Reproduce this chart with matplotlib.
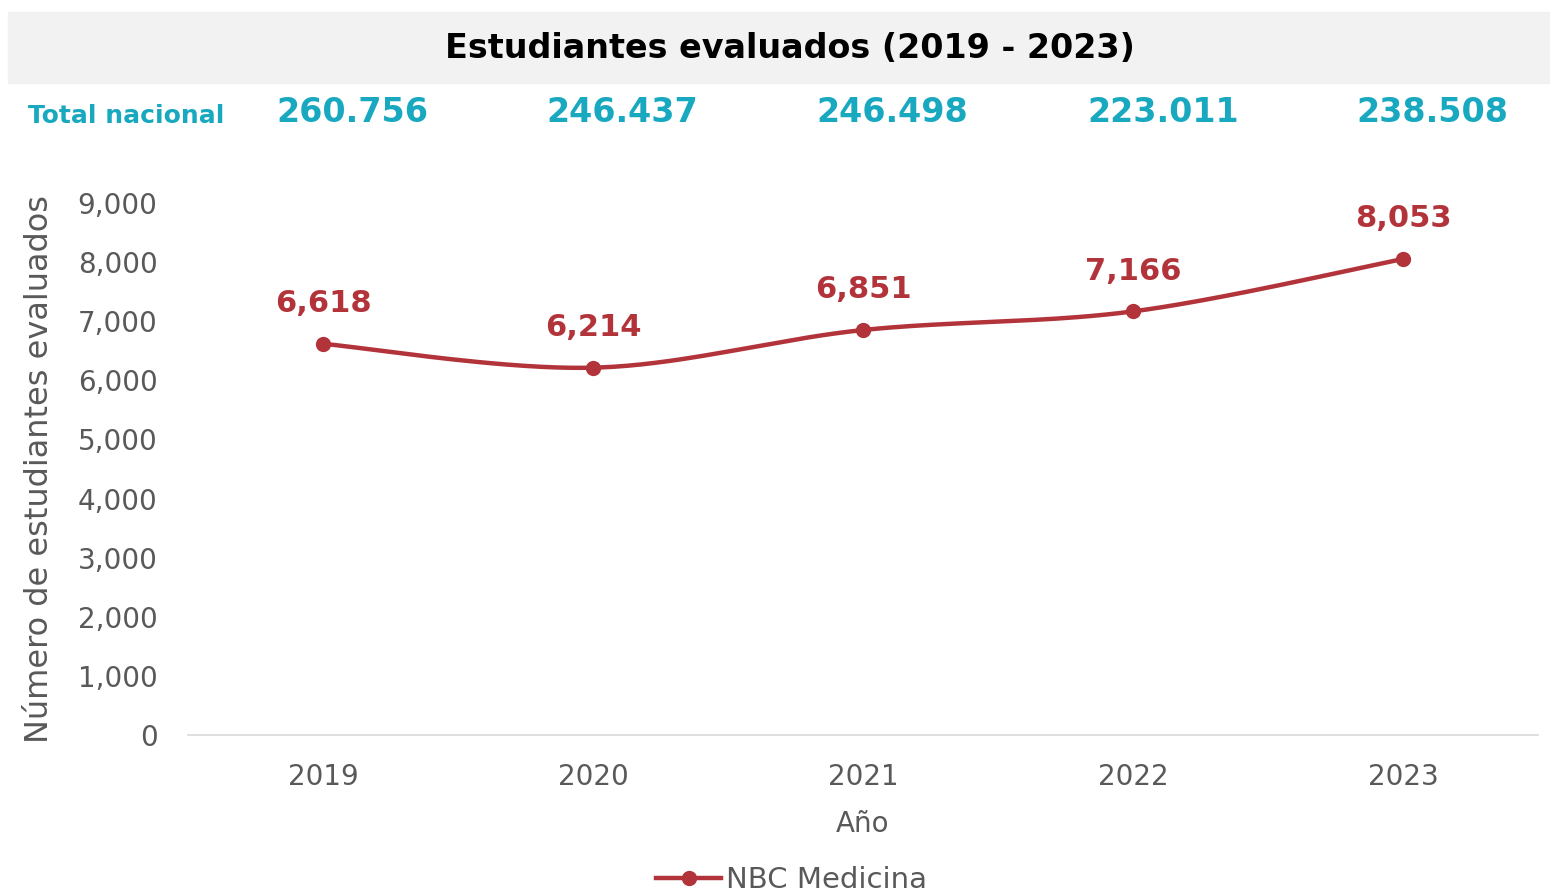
import matplotlib.pyplot as plt
import matplotlib.patches as mpatches
import matplotlib.transforms as mtransforms
import numpy as np

# datos
anios = ["2019", "2020", "2021", "2022", "2023"]
medicina = [6618, 6214, 6851, 7166, 8053]
total_nacional = ["260.756", "246.437", "246.498", "223.011", "238.508"]
yticks = [0, 1000, 2000, 3000, 4000, 5000, 6000, 7000, 8000, 9000]

rojo = "#B2343A"
teal = "#18A8C0"
gris = "#595959"

W, H = 1550, 894
plt.rcParams['font.family'] = ['DejaVu Sans']

fig = plt.figure(figsize=(W / 100, H / 100), dpi=100)

# banda del titulo
fig.patches.append(mpatches.Rectangle((8 / W, 1 - 83 / H), 1542 / W, 71 / H,
                                      transform=fig.transFigure, color="#F2F2F2", zorder=0))
fig.text(790 / W, 1 - 48 / H, "Estudiantes evaluados (2019 - 2023)", ha="center", va="center",
         fontsize=24, fontweight="bold", color="black")
fig.text(28 / W, 1 - 116 / H, "Total nacional", ha="left", va="center",
         fontsize=18, fontweight="bold", color=teal)

ax = fig.add_axes([188 / W, 1 - 735 / H, 1350 / W, 532 / H])
x = np.arange(len(anios))
ax.set_xlim(-0.5, 4.5)
ax.set_ylim(0, 9000)

# total nacional encima de cada año (x en datos, y en figura)
trans = mtransforms.blended_transform_factory(ax.transData, fig.transFigure)
for i, t in enumerate(total_nacional):
    ax.text(i + 0.11, 1 - 113 / H, t, transform=trans, ha="center", va="center",
            fontsize=24, fontweight="bold", color=teal, clip_on=False)

# linea suavizada (estilo Excel, bezier tipo catmull-rom)
xs, ys = [], []
pts = np.column_stack([x, medicina]).astype(float)
n = len(pts)
for i in range(n - 1):
    p0 = pts[max(i - 1, 0)]
    p1 = pts[i]
    p2 = pts[i + 1]
    p3 = pts[min(i + 2, n - 1)]
    c1 = p1 + (p2 - p0) / 6
    c2 = p2 - (p3 - p1) / 6
    t = np.linspace(0, 1, 40)[:, None]
    b = (1 - t) ** 3 * p1 + 3 * (1 - t) ** 2 * t * c1 + 3 * (1 - t) * t ** 2 * c2 + t ** 3 * p2
    xs.extend(b[:, 0])
    ys.extend(b[:, 1])
ax.plot(xs, ys, color=rojo, linewidth=3.2, solid_capstyle="round")
ax.plot(x, medicina, "o", color=rojo, markersize=10)

for i, v in enumerate(medicina):
    ax.annotate(f"{v:,}", (i, v), xytext=(0, 29), textcoords="offset points",
                ha="center", va="center", fontsize=22, fontweight="bold", color=rojo)

ax.set_xticks(x)
ax.set_xticklabels(anios)
ax.set_yticks(yticks)
ax.set_yticklabels([f"{v:,}" for v in yticks])
ax.tick_params(axis="both", length=0, labelsize=20, labelcolor=gris)
ax.tick_params(axis="x", pad=20)
ax.tick_params(axis="y", pad=22)
for s in ["top", "right", "left"]:
    ax.spines[s].set_visible(False)
ax.spines["bottom"].set_color("#D9D9D9")
ax.spines["bottom"].set_linewidth(1.2)

ax.set_xlabel("Año", fontsize=20, color=gris, labelpad=14)
ax.set_ylabel("Número de estudiantes evaluados", fontsize=23, color=gris, labelpad=16)

leg = fig.legend([plt.Line2D([0], [0], color=rojo, lw=3.2, marker="o", markersize=10)],
                 ["NBC Medicina"], loc="center", bbox_to_anchor=(792 / W, 1 - 880 / H),
                 frameon=False, fontsize=21, handlelength=2.2, handletextpad=0.2)
for txt in leg.get_texts():
    txt.set_color(gris)

fig.savefig("out.png", dpi=100)
